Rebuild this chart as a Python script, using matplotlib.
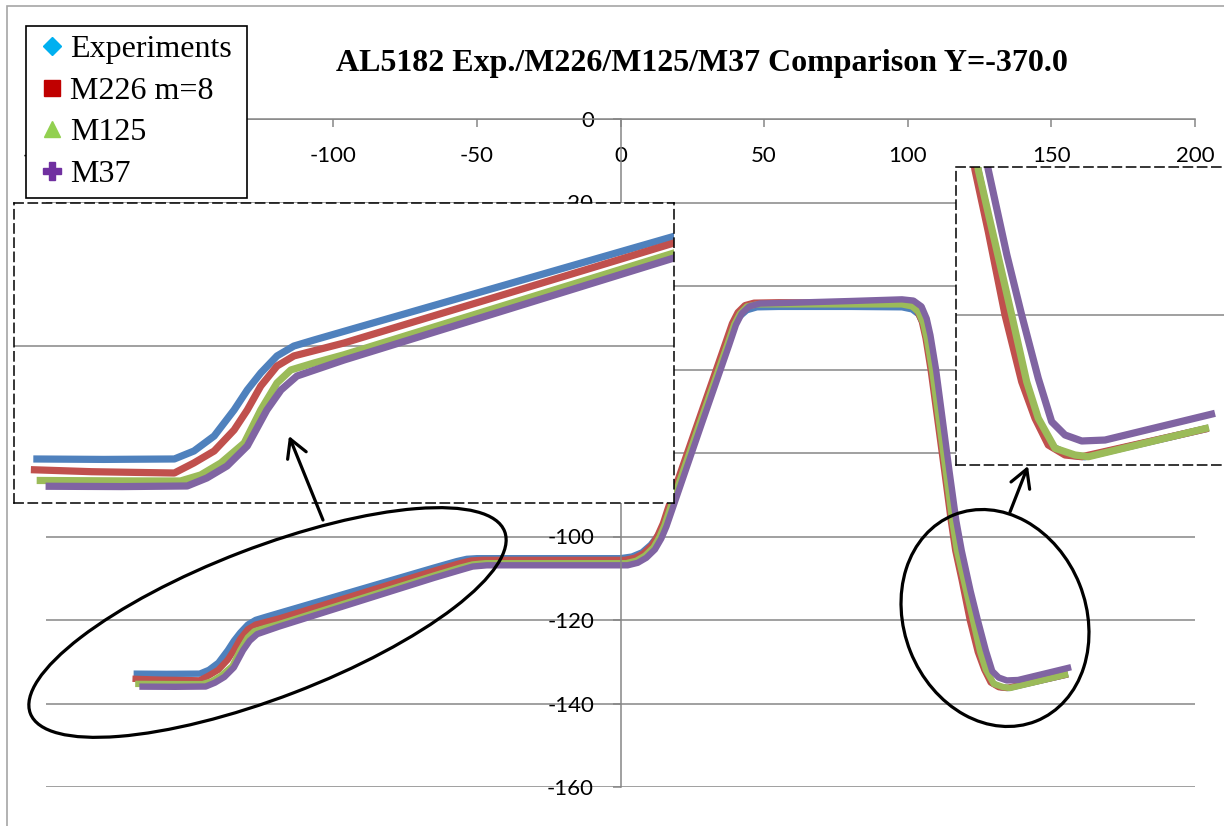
import matplotlib
matplotlib.use("Agg")
import matplotlib.pyplot as plt
from matplotlib.lines import Line2D
from matplotlib.patches import Ellipse, FancyArrowPatch, Rectangle

plt.rcParams['font.family'] = ['Lato', 'DejaVu Sans']
plt.rcParams['axes.unicode_minus'] = False

W, H = 1224, 826

title = "AL5182 Exp./M226/M125/M37 Comparison Y=-370.0"
names = ["Experiments", "M226 m=8", "M125", "M37"]

# profiles (x, y)
exp_x = [-169.5, -158, -146.5, -143.3, -140.0, -136.75, -134.6, -132.4, -129.75, -127.0, -123.7, -118.8,
         -65.0, -57.0, -53.5, -50.0, -25.0, 0.0, 4.0, 7.5, 10.5, 13.0, 15.0, 17.0, 27.5, 37.0, 39.5, 41.5,
         44.0, 47.5, 55.0, 80.0, 98.0, 101.5, 103.8, 105.5, 106.8, 108.5, 113.2, 115.5, 117.05, 119.3,
         122.1, 124.9, 126.9, 129.4, 132.5, 135.0, 155.8]
exp_y = [-132.85, -132.9, -132.85, -131.94, -130.23, -127.26, -124.98, -123.04, -121.1, -119.97, -119.28,
         -118.29, -107.46, -105.9, -105.35, -105.2, -105.2, -105.2, -104.8, -103.8, -102.0, -99.8, -97.2,
         -93.5, -72.8, -54.2, -49.6, -47.3, -45.8, -45.1, -45.0, -45.0, -45.1, -45.6, -46.8, -49.3, -53.0,
         -60.2, -84.2, -96.2, -103.33, -110.43, -120.0, -127.67, -131.87, -135.1, -136.1, -136.3, -133.0]

m226_x = [-169.9, -160.0, -146.5, -143.3, -140.0, -136.75, -134.6, -132.4, -129.75, -127.0, -118.8, -65.0,
          -56.0, -52.0, -48.0, -20.0, 1.5, 5.0, 8.0, 11.0, 13.0, 14.8, 16.5, 27.0, 36.4, 38.8, 40.8, 43.3,
          46.5, 55.0, 80.0, 98.0, 101.0, 103.2, 104.9, 106.2, 108.0, 112.7, 115.0, 116.54, 118.78, 121.59,
          124.39, 126.63, 128.86, 131.67, 134.48, 155.75]
m226_y = [-134.07, -134.3, -134.45, -133.3, -131.94, -129.54, -127.26, -124.53, -122.25, -121.1, -119.62,
          -108.22, -106.4, -105.75, -105.6, -105.6, -105.6, -105.1, -104.0, -102.0, -99.6, -96.8, -93.2,
          -72.4, -53.8, -49.0, -46.3, -44.6, -44.0, -43.9, -44.0, -44.0, -44.5, -45.8, -48.5, -52.5, -60.2,
          -84.2, -96.2, -103.33, -110.43, -120.0, -127.67, -131.87, -134.94, -136.09, -136.29, -133.02]

m125_x = [-168.95, -155.0, -145.5, -142.2, -138.9, -135.1, -132.4, -129.75, -127.5, -123.7, -118.8, -65.0,
          -56.0, -51.5, -47.0, -20.0, 2.0, 5.5, 8.5, 11.5, 13.5, 15.3, 17.2, 27.7, 37.2, 39.6, 41.6, 44.0,
          47.5, 55.0, 80.0, 98.0, 101.5, 103.7, 105.4, 106.7, 108.5, 113.2, 115.5, 117.1, 122.71, 125.23,
          127.18, 129.99, 133.35, 135.59, 155.87]
m125_y = [-135.3, -135.35, -135.36, -134.67, -133.3, -131.03, -127.26, -124.18, -122.7, -121.9, -120.96,
          -109.36, -107.5, -106.7, -106.4, -106.4, -106.4, -105.8, -104.6, -102.6, -100.2, -97.3, -93.4,
          -72.6, -54.0, -49.2, -46.6, -44.9, -44.4, -44.4, -44.4, -44.4, -44.9, -46.2, -48.9, -52.8, -60.2,
          -84.2, -96.2, -103.33, -120.0, -127.67, -131.87, -135.32, -136.09, -136.29, -132.95]

m37_x = [-167.5, -155.0, -144.4, -141.2, -137.9, -134.6, -131.4, -129.1, -126.5, -118.8, -65.0, -56.0,
         -51.5, -46.5, -20.0, 2.5, 6.0, 9.0, 12.0, 14.2, 16.0, 18.0, 28.4, 37.8, 40.2, 42.2, 44.8, 48.5,
         60.0, 80.0, 98.0, 102.0, 104.8, 106.6, 107.9, 109.9, 114.5, 116.9, 118.78, 121.9, 124.39, 127.18,
         129.43, 131.67, 134.48, 138.39, 156.88]
m37_y = [-135.96, -136.0, -135.93, -135.02, -133.65, -131.37, -127.26, -124.98, -123.39, -121.56, -109.93,
         -108.1, -107.2, -106.9, -106.9, -106.9, -106.3, -105.1, -103.1, -100.5, -97.6, -93.6, -72.8, -54.2,
         -49.3, -46.6, -44.9, -44.2, -44.0, -43.6, -43.2, -43.5, -44.9, -47.8, -51.8, -60.2, -84.2, -96.2,
         -103.33, -113.1, -120.0, -127.28, -132.26, -133.79, -134.48, -134.37, -131.3]

line_colors = ["#4F81BD", "#C0504D", "#9BBB59", "#8064A2"]
legend_colors = ["#00B0F0", "#C00000", "#92D050", "#7030A0"]
legend_markers = ["D", "s", "^", "P"]
legend_sizes = [9, 11, 12, 13]

series = [(exp_x, exp_y), (m226_x, m226_y), (m125_x, m125_y), (m37_x, m37_y)]

GRAY = "#868686"


def box(x0, y0, x1, y1):
    # pixel box (top-left origin) -> figure fraction rect
    return [x0 / W, 1 - y1 / H, (x1 - x0) / W, (y1 - y0) / H]


def draw_series(a, lw):
    for (xs, ys), c in zip(series, line_colors):
        a.plot(xs, ys, color=c, lw=lw, solid_joinstyle='round', solid_capstyle='butt')


fig = plt.figure(figsize=(W / 100, H / 100), dpi=100)
fig.patch.set_facecolor("white")

# main chart
ax = fig.add_axes(box(46, 119, 1195, 787), zorder=1)
draw_series(ax, 4.6)
ax.set_xlim(-200, 200)
ax.set_ylim(-160, 0)
ax.set_xticks(range(-200, 201, 50))
ax.set_yticks(range(-160, 1, 20))
ax.yaxis.grid(True, color=GRAY, lw=1.1)
ax.set_axisbelow(True)
ax.xaxis.set_ticks_position('top')
ax.tick_params(axis='x', direction='in', length=6, width=1.1, color=GRAY, labelsize=16,
               pad=-33.5, labeltop=True, labelbottom=False)
ax.tick_params(axis='y', direction='out', length=6, width=1.1, color=GRAY, labelsize=16, pad=13)
ax.spines['left'].set_position(('data', 0))
for s in ['left', 'top']:
    ax.spines[s].set_color(GRAY)
    ax.spines[s].set_linewidth(1.1)
ax.spines['right'].set_visible(False)
ax.spines['bottom'].set_visible(False)


def inset(rect, xlim, ylim):
    a = fig.add_axes(rect, zorder=2)
    draw_series(a, 5.2)
    a.set_xlim(*xlim)
    a.set_ylim(*ylim)
    a.set_xticks([])
    a.set_yticks([-120])
    a.yaxis.grid(True, color=GRAY, lw=1.1)
    a.set_axisbelow(True)
    a.tick_params(axis='y', length=0, labelleft=False)
    for s in a.spines.values():
        s.set_color('black')
        s.set_linewidth(1.1)
        s.set_linestyle((0, (6, 3.3)))
    return a


inset(box(14, 203, 674, 503), (-172.65, -65.0), (-137.87, -103.66))
inset(box(955.7, 167, 1240, 465), (113.3, 161.08), (-137.24, -102.99))

# hand-drawn call-outs
ov = fig.add_axes([0, 0, 1, 1], zorder=3)
ov.set_xlim(0, W)
ov.set_ylim(0, H)
ov.axis('off')
ov.patch.set_alpha(0)
ov.add_patch(Ellipse((267.5, H - 622.5), 508, 150, angle=21, fill=False, lw=2.3, ec='black'))
ov.add_patch(Ellipse((995, H - 618), 182, 222, angle=21.7, fill=False, lw=2.3, ec='black'))
for p0, p1 in [((323, H - 520), (289, H - 436)), ((1010, H - 512), (1028, H - 466))]:
    ov.add_patch(FancyArrowPatch(p0, p1, arrowstyle='->,head_length=0.8,head_width=0.45',
                                 mutation_scale=16, lw=2.3, color='black', shrinkA=0, shrinkB=0))
ov.add_patch(Rectangle((7, -20), W, H - 6 + 20, fill=False, ec='#A6A6A6', lw=1.2))

fig.text(702 / W, 1 - 64 / H, title, ha='center', va='center', family='Liberation Serif',
         weight='bold', size=23)

handles = [Line2D([], [], ls='none', marker=m, ms=s, color=c, mec=c)
           for m, s, c in zip(legend_markers, legend_sizes, legend_colors)]
leg = fig.legend(handles, names, loc='upper left', mode='expand',
                 bbox_to_anchor=(26 / W, 1 - 194 / H, 221 / W, 168 / H),
                 bbox_transform=fig.transFigure, borderaxespad=0, frameon=True, fancybox=False,
                 edgecolor='black', framealpha=1, prop=dict(family='Liberation Serif', size=23),
                 handlelength=1.05, handletextpad=0.05, labelspacing=0.38, borderpad=0.28)
leg.get_frame().set_linewidth(1.2)

fig.savefig("out.png", dpi=100)
